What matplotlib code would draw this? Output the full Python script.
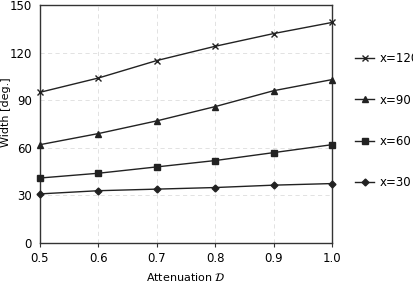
import matplotlib.pyplot as plt

atenuacao = [0.5, 0.6, 0.7, 0.8, 0.9, 1.0]
w_120 = [95, 104, 115, 124, 132, 139]
w_90 = [62, 69, 77, 86, 96, 103]
w_60 = [41, 44, 48, 52, 57, 62]
w_30 = [31, 33, 34, 35, 36.5, 37.5]

series = [
    (w_120, 'x', 5, 'x=120'),
    (w_90, '^', 5, 'x=90'),
    (w_60, 's', 4.5, 'x=60'),
    (w_30, 'D', 3.5, 'x=30'),
]

fig = plt.figure(figsize=(4.14, 2.87), dpi=100)
ax = fig.add_axes([0.0966, 0.153, 0.7054, 0.8296])

for vals, mk, ms, lab in series:
    ax.plot(atenuacao, vals, color='#222222', linewidth=1.0,
            marker=mk, markersize=ms, markeredgewidth=1.0, label=lab,
            clip_on=False, zorder=3)

ax.set_xlim(0.5, 1.0)
ax.set_ylim(0, 150)
ax.set_xticks(atenuacao)
ax.set_xticklabels(['0.5', '0.6', '0.7', '0.8', '0.9', '1.0'])
ax.set_yticks([0, 30, 60, 90, 120, 150])
ax.tick_params(axis='both', labelsize=8.5, length=3, direction='out', color='#333333')
ax.tick_params(axis='y', length=0, pad=6)
ax.grid(True, linestyle=(0, (5, 4)), linewidth=0.6, color='#dddddd')
for s in ax.spines.values():
    s.set_color('#333333')
    s.set_linewidth(1.0)

ax.set_xlabel(r'Attenuation $\mathcal{D}$', fontsize=8, labelpad=4)
ax.set_ylabel('Width [deg.]', fontsize=8)
ax.yaxis.set_label_coords(-0.1, 0.55)

h, l = ax.get_legend_handles_labels()
fig.legend(h, l, loc='upper left', bbox_to_anchor=(0.858, 0.818),
           frameon=False, fontsize=8.5, labelspacing=2.4,
           handlelength=1.6, handletextpad=0.5, borderpad=0, borderaxespad=0)

fig.savefig('out.png', dpi=100)
